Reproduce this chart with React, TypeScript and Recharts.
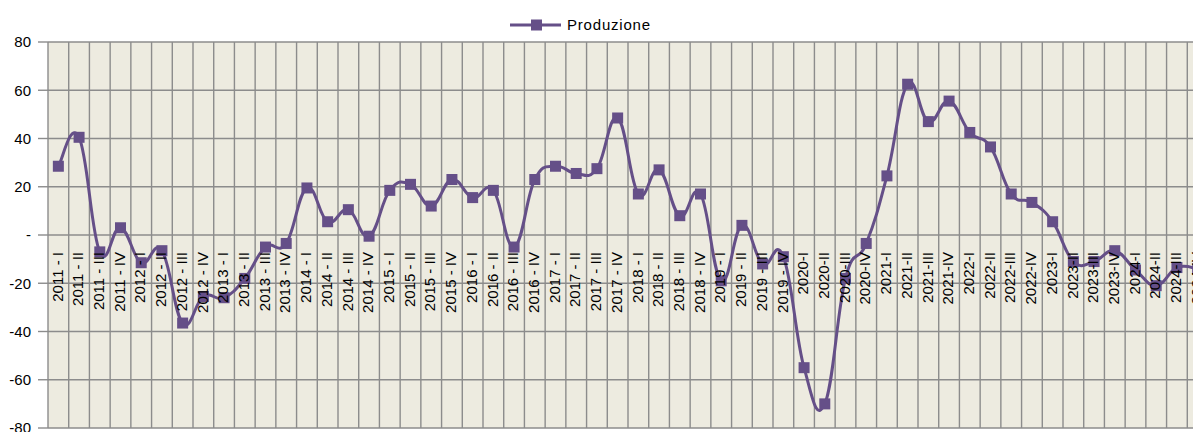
// Produzione -- quarterly balance, recharts line with excel-style smoothing.

import { CartesianGrid, LabelList, Legend, Line, LineChart, XAxis, YAxis } from "recharts";

const years = [2011, 2012, 2013, 2014, 2015, 2016, 2017, 2018, 2019, 2020, 2021, 2022, 2023, 2024];
const quarters = ["I", "II", "III", "IV"];

// values, one row per year
const produzione = [
	28.5, 40.5, -7, 3,
	-11.5, -6.5, -36.5, -25.5,
	-26, -18, -5, -3.5,
	19.5, 5.5, 10.5, -0.5,
	18.5, 21, 12, 23,
	15.5, 18.5, -5, 23,
	28.5, 25.5, 27.5, 48.5,
	17, 27, 8, 17,
	-19, 4, -12, -9,
	-55, -70, -18, -3.5,
	24.5, 62.5, 47, 55.5,
	42.5, 36.5, 17, 13.5,
	5.5, -11, -11, -6.5,
	-14.5, -21, -13.5, -14,
];

const yTicks = [-80, -60, -40, -20, 0, 20, 40, 60, 80];

// up to 2019 the labels were written "2011 - I", afterwards "2020-I"
const periods = years.flatMap((y) => quarters.map((q) => (y < 2020 ? `${y} - ${q}` : `${y}-${q}`)));

const data = periods.map((label, i) => ({ label, v: produzione[i] }));

const PURPLE = "#654f88";
const GRID = "#8c8c8c";
const FONT = "'Liberation Sans', Arial, sans-serif";

// catmull-rom style bezier through every point, like the "smoothed line" option
const excelCurve = (ctx: any) => {
	let pts: [number, number][] = [];
	const k = 0.21;
	return {
		areaStart() {},
		areaEnd() {},
		lineStart() {
			pts = [];
		},
		point(x: number, y: number) {
			pts.push([+x, +y]);
		},
		lineEnd() {
			if (!pts.length) return;
			ctx.moveTo(pts[0][0], pts[0][1]);
			for (let i = 0; i < pts.length - 1; i++) {
				const p0 = pts[Math.max(i - 1, 0)];
				const p1 = pts[i];
				const p2 = pts[i + 1];
				const p3 = pts[Math.min(i + 2, pts.length - 1)];
				ctx.bezierCurveTo(
					p1[0] + (p2[0] - p0[0]) * k,
					p1[1] + (p2[1] - p0[1]) * k,
					p2[0] - (p3[0] - p1[0]) * k,
					p2[1] - (p3[1] - p1[1]) * k,
					p2[0],
					p2[1],
				);
			}
		},
	};
};

const SquareDot = (p: any) => (
	<rect key={`d${p.index}`} x={p.cx - 5.5} y={p.cy - 5.5} width={11} height={11} fill={PURPLE} />
);

const CategoryLabel = (p: any) => (
	<text
		x={p.x}
		y={p.y + 17}
		dy="0.28em"
		transform={`rotate(-90 ${p.x} ${p.y + 17})`}
		textAnchor="end"
		fontFamily={FONT}
		fontSize={15}
		fill="#000"
	>
		{p.value}
	</text>
);

const LegendBox = () => (
	<div style={{ display: "flex", alignItems: "center", fontFamily: FONT, fontSize: 15, letterSpacing: 0.8 }}>
		<svg width={51} height={12} style={{ marginRight: 6 }}>
			<line x1={0} y1={6} x2={51} y2={6} stroke={PURPLE} strokeWidth={3} />
			<rect x={21} y={0.5} width={11} height={11} fill={PURPLE} />
		</svg>
		<span>Produzione</span>
	</div>
);

export default function App() {
	const w = 1208;
	const step = (w - 48) / data.length;
	return (
		<div style={{ position: "absolute", left: 0, top: 0, width: 1193, height: 432, overflow: "hidden", background: "#fff" }}>
			<LineChart width={w} height={432} data={data} margin={{ top: 42, right: 0, bottom: 4, left: 0 }}>
				<CartesianGrid
					fill="#edebe0"
					stroke={GRID}
					strokeWidth={1.4}
					verticalCoordinatesGenerator={({ offset }: any) =>
						data.map((_, i) => offset.left + i * step).concat(offset.left + offset.width)
					}
				/>
				<XAxis dataKey="label" hide height={0} padding={{ left: step / 2, right: step / 2 }} />
				<YAxis
					domain={[-80, 80]}
					ticks={yTicks}
					width={48}
					interval={0}
					axisLine={false}
					tickSize={10}
					tickMargin={7}
					tickLine={{ stroke: GRID, strokeWidth: 1.4 }}
					tick={{ fill: "#000", fontFamily: FONT, fontSize: 15 }}
					tickFormatter={(v: number) => (v === 0 ? "-" : String(v))}
				/>
				<Legend
					verticalAlign="top"
					content={LegendBox}
					wrapperStyle={{ position: "absolute", left: 510, top: 16, width: "auto", height: 0 }}
				/>
				<Line
					dataKey={() => 0}
					stroke="none"
					dot={false}
					activeDot={false}
					legendType="none"
					isAnimationActive={false}
				>
					<LabelList dataKey="label" content={CategoryLabel} />
				</Line>
				<Line
					dataKey="v"
					name="Produzione"
					type={excelCurve as any}
					stroke={PURPLE}
					strokeWidth={3}
					dot={SquareDot}
					activeDot={false}
					isAnimationActive={false}
				/>
			</LineChart>
		</div>
	);
}
